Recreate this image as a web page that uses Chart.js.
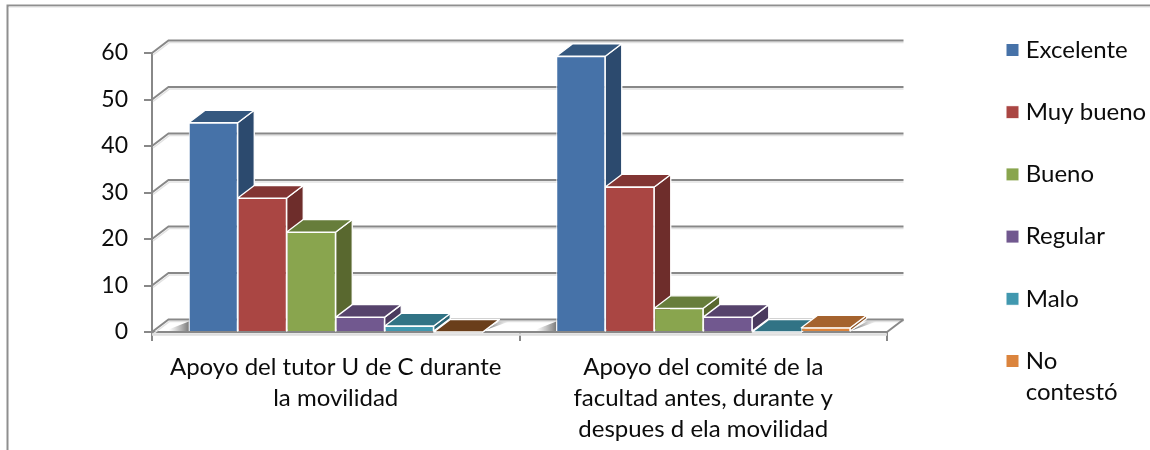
<!DOCTYPE html>
<html><head><meta charset="utf-8">
<style>html,body{margin:0;padding:0;background:#fff}canvas{display:block}</style>
<script src="https://cdn.jsdelivr.net/npm/chart.js@4"></script>
</head><body><canvas id="c" width="1150" height="450"></canvas>
<script>
const categories = [["Apoyo del tutor U de C durante","la movilidad"],["Apoyo del comité de la","facultad antes, durante y","despues d ela movilidad"]];
const seriesNames = ["Excelente","Muy bueno","Bueno","Regular","Malo",["No","contestó"]];
const excelente = [45, 59.3];
const muyBueno = [28.8, 31.2];
const bueno = [21.5, 5.1];
const regular = [3.2, 3.2];
const malo = [1.3, 0];
const noContesto = [0, 0.9];
const yTicksMax = 60, yStep = 10;
const frontColors = ["#4672A8","#AA4643","#89A54E","#71588F","#4198AF","#DB843D"];
const topColors = ["#35587F","#823533","#677D3B","#56436C","#317385",["#6A3E1A","#A5632E"]];
const sideColors = ["#2C4A6E","#6E2D2B","#59682F","#4A3A5E","#2A6474","#8F5628"];
const DX = 16.5, DY = 12.5, AXIS = "#888888", FONT = "Lato", FS = 24, TXT = "#0c0c0c";

const values = [excelente, muyBueno, bueno, regular, malo, noContesto];
function poly(ctx, pts){ctx.beginPath();pts.forEach((p,i)=>i?ctx.lineTo(p[0],p[1]):ctx.moveTo(p[0],p[1]));ctx.closePath();}
function line(ctx, pts, col, w){ctx.strokeStyle=col;ctx.lineWidth=w;ctx.beginPath();pts.forEach((p,i)=>i?ctx.lineTo(p[0],p[1]):ctx.moveTo(p[0],p[1]));ctx.stroke();}

const threeD = {
  id:"threeD",
  beforeUpdate(chart){
    const lg = chart.legend;
    if(lg && !lg._wrapped){
      const f = lg.fit;
      lg.fit = function(){ f.call(this); this.width = 263; };
      lg._wrapped = true;
    }
  },
  afterLayout(chart){
    const lg = chart.legend, pad = lg.options.labels.padding;
    lg.left = 1011.25 - pad; lg.right = 1150; lg.top = 38 - pad; lg.bottom = 450;
  },
  beforeDraw(chart){
    const ctx = chart.ctx;
    line(ctx,[[7.5,450],[7.5,5.5],[1150,5.5]],"#8f8f8f",2);
    line(ctx,[[9,7],[1150,7]],"#e0e0e0",1);
  },
  beforeDatasetsDraw(chart){
    const ctx = chart.ctx, y = chart.scales.y, a = chart.chartArea;
    ctx.save();
    for(let v=yTicksMax; v>=0; v-=yStep){
      const py = y.getPixelForValue(v);
      line(ctx,[[a.left+1,py+2],[a.left+DX+1,py-DY+2],[a.right+DX,py-DY+2]],"#e2e2e2",1.5);
      line(ctx,[[a.left,py],[a.left+DX,py-DY],[a.right+DX,py-DY]],AXIS,2);
    }
    const py0 = y.getPixelForValue(0);
    line(ctx,[[a.right,py0],[a.right+DX,py0-DY]],AXIS,2);
    line(ctx,[[a.left,py0+2.5],[a.right,py0+2.5]],"#dedede",2.5);
    const metas = chart.getSortedVisibleDatasetMetas();
    categories.forEach((_,i)=>{
      const first = metas[0].data[i].getProps(["x","width"]);
      const last = metas[metas.length-1].data[i].getProps(["x","width"]);
      const lx = first.x-first.width/2, rx = last.x+last.width/2;
      let g = ctx.createLinearGradient(lx-20,0,lx,0);
      g.addColorStop(0,"rgba(130,130,130,0)");g.addColorStop(1,"rgba(100,100,100,.85)");
      ctx.fillStyle=g;poly(ctx,[[lx,py0-DY+2],[lx,py0-1],[lx-24,py0-1]]);ctx.fill();
      g = ctx.createLinearGradient(rx,0,rx+DX+10,0);
      g.addColorStop(0,"rgba(90,90,90,.95)");g.addColorStop(1,"rgba(130,130,130,0)");
      ctx.fillStyle=g;poly(ctx,[[rx,py0-1],[rx+DX,py0-DY+2],[rx+DX+10,py0-DY+2]]);ctx.fill();
    });
    metas.forEach((m,di)=>{
      m.data.forEach((el,i)=>{
        const p = el.getProps(["x","y","base","width"]);
        const l=p.x-p.width/2, r=p.x+p.width/2, t=p.y, b=p.base;
        const tc = Array.isArray(topColors[di])?topColors[di][i]:topColors[di];
        ctx.lineWidth=1.3;ctx.strokeStyle="#ffffff";ctx.lineJoin="round";
        poly(ctx,[[r,t],[r+DX,t-DY],[r+DX,b-DY],[r,b]]);
        ctx.fillStyle=sideColors[di];ctx.fill();ctx.stroke();
        poly(ctx,[[l,t],[l+DX,t-DY],[r+DX,t-DY],[r,t]]);
        ctx.fillStyle=tc;ctx.fill();ctx.stroke();
      });
    });
    ctx.restore();
  }
};

new Chart(document.getElementById("c"),{
  type:"bar",
  data:{labels:categories,datasets:seriesNames.map((n,i)=>({
    label:n,data:values[i],backgroundColor:frontColors[i],borderColor:"#ffffff",borderWidth:1
  }))},
  options:{
    responsive:false,animation:false,
    layout:{padding:{top:53,left:0,right:0,bottom:0}},
    datasets:{bar:{barPercentage:1,categoryPercentage:0.8}},
    plugins:{
      tooltip:{enabled:false},title:{display:false},
      legend:{display:true,position:"right",align:"start",
        labels:{usePointStyle:true,pointStyle:"rect",boxWidth:2.5,boxHeight:13,padding:38.2,color:TXT,
          font:{family:FONT,size:FS,lineHeight:31/FS}}}
    },
    scales:{
      y:{min:0,max:yTicksMax,
        afterFit(s){s.width=152;},
        ticks:{stepSize:yStep,padding:16,color:TXT,font:{family:FONT,size:23}},
        grid:{drawOnChartArea:false,drawTicks:true,tickLength:8,color:AXIS,lineWidth:2},
        border:{display:true,color:AXIS,width:2}},
      x:{
        afterFit(s){s.height=118;},
        ticks:{autoSkip:false,maxRotation:0,minRotation:0,padding:11,color:TXT,
          font:{family:FONT,size:FS,lineHeight:31/FS}},
        grid:{drawOnChartArea:false,drawTicks:true,tickLength:9,color:AXIS,lineWidth:2},
        border:{display:true,color:AXIS,width:2}}
    }
  },
  plugins:[threeD]
});
</script></body></html>
